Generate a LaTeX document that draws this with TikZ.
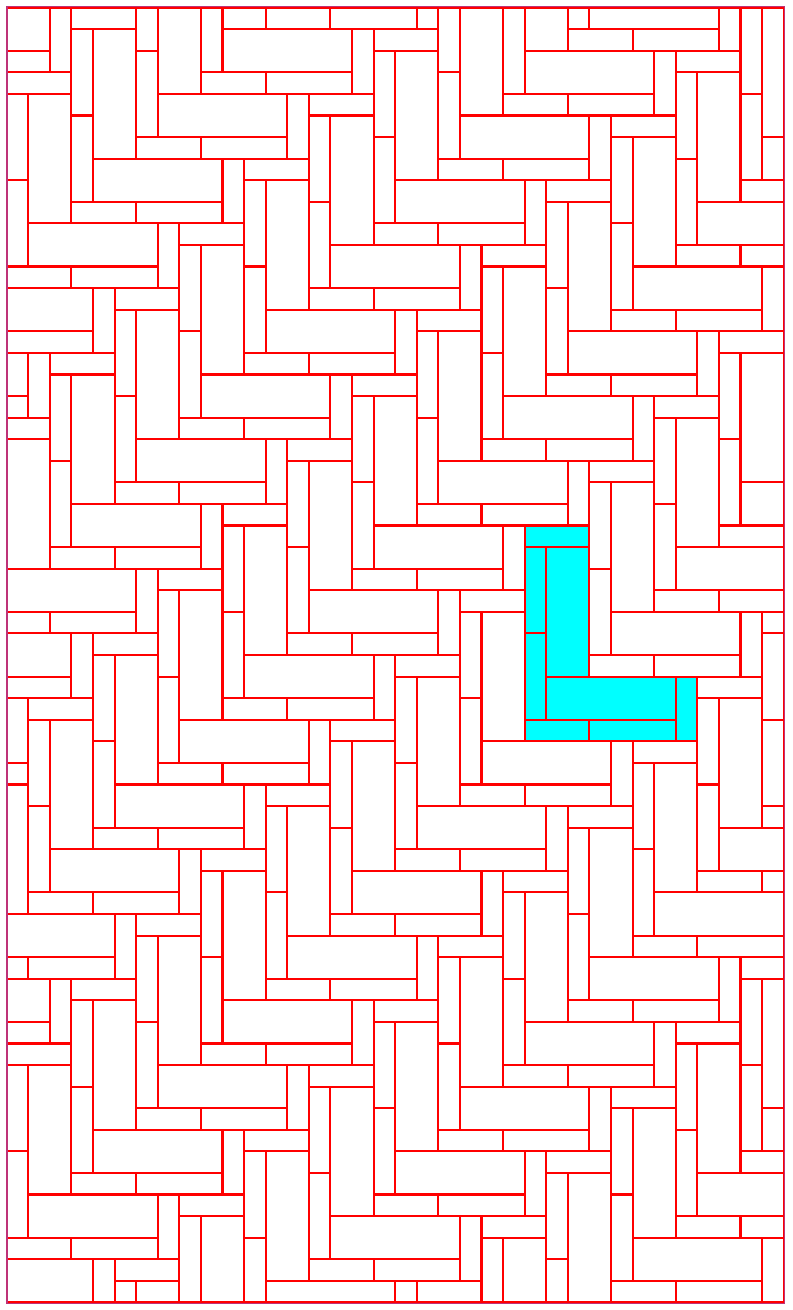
\documentclass[tikz,border=0pt]{standalone}
\definecolor{tilered}{RGB}{255,0,0}
\definecolor{framepurple}{RGB}{190,50,120}
\definecolor{hicyan}{RGB}{0,255,255}
\tikzset{
  tile/.style={draw=tilered, line width=1.4pt},
  frameline/.style={draw=framepurple, line width=0.9pt}
}
\begin{document}
\begin{tikzpicture}[x=0.5cm,y=-0.5cm]
\useasboundingbox (-0.31,-0.35) rectangle (36.434,60.35);
% highlighted fundamental region
\fill[hicyan] (24,24) -- (27,24) -- (27,31) -- (32,31) -- (32,34) -- (24,34) -- cycle;
\begin{scope}
\clip (0,0) rectangle (36,60);
\foreach \m in {-9,...,13}{
  \foreach \n in {-5,...,5}{
    \pgfmathtruncatemacro\ox{24-3*\m+8*\n}
    \pgfmathtruncatemacro\oy{24+3*\m+7*\n}
    \begin{scope}[shift={(\ox,\oy)}]
      \draw[tile] (0,0) rectangle (3,1);
      \draw[tile] (0,1) rectangle (1,5);
      \draw[tile] (0,5) rectangle (1,9);
      \draw[tile] (1,1) rectangle (3,7);
      \draw[tile] (1,7) rectangle (7,9);
      \draw[tile] (7,7) rectangle (8,10);
      \draw[tile] (0,9) rectangle (3,10);
      \draw[tile] (3,9) rectangle (7,10);
    \end{scope}
  }
}
\end{scope}
\draw[tile] (0,0) rectangle (36,60);
\draw[frameline] (0.02,-0.04) rectangle (36.05,60.04);
\end{tikzpicture}
\end{document}
